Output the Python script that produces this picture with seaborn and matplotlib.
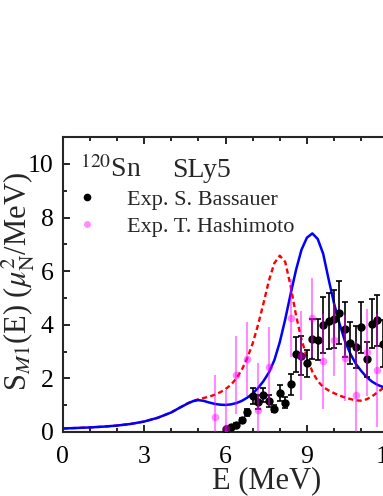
import matplotlib
matplotlib.use('Agg')
import matplotlib.pyplot as plt
from matplotlib.lines import Line2D
from matplotlib.ticker import MultipleLocator
import seaborn as sns

# theory curves (SLy5)
E_th = [0, 0.5, 1, 1.5, 2, 2.5, 3, 3.5, 4, 4.3, 4.6, 4.8, 5.0, 5.2, 5.4, 5.6, 5.8,
        6.0, 6.2, 6.4, 6.6, 6.8, 7.0, 7.2, 7.4, 7.6, 7.8, 8.0, 8.2, 8.4, 8.6, 8.8,
        9.0, 9.2, 9.4, 9.6, 9.8, 10.0, 10.2, 10.4, 10.6, 10.8, 11.0, 11.2, 11.4,
        11.6, 11.8, 12.0]
S_blue = [0.13, 0.15, 0.17, 0.20, 0.24, 0.30, 0.39, 0.53, 0.73, 0.90, 1.06, 1.15,
          1.19, 1.16, 1.10, 1.05, 1.02, 1.01, 1.03, 1.08, 1.16, 1.28, 1.43, 1.64,
          1.90, 2.22, 2.68, 3.35, 4.20, 5.15, 6.05, 6.80, 7.25, 7.41, 7.20, 6.65,
          5.70, 4.80, 4.05, 3.40, 2.92, 2.55, 2.28, 2.05, 1.88, 1.76, 1.68, 1.62]
S_red = [0.13, 0.15, 0.17, 0.20, 0.24, 0.30, 0.39, 0.53, 0.73, 0.90, 1.07, 1.16,
         1.22, 1.27, 1.32, 1.39, 1.48, 1.60, 1.76, 2.00, 2.32, 2.75, 3.30, 4.00,
         4.80, 5.65, 6.30, 6.58, 6.35, 5.45, 4.35, 3.45, 2.80, 2.25, 1.90, 1.68,
         1.55, 1.45, 1.36, 1.29, 1.23, 1.18, 1.17, 1.22, 1.33, 1.48, 1.63, 1.80]

# Exp. S. Bassauer
E_bas = [6.0, 6.2, 6.4, 6.6, 6.8, 7.0, 7.2, 7.4, 7.6, 7.8, 8.0, 8.2, 8.4, 8.6, 8.8,
         9.0, 9.2, 9.4, 9.6, 9.8, 10.0, 10.2, 10.4, 10.6, 10.8, 11.0, 11.2, 11.4,
         11.6, 11.8]
S_bas = [0.10, 0.19, 0.27, 0.43, 0.73, 1.33, 1.12, 1.38, 1.16, 0.86, 1.45, 1.10,
         1.78, 2.90, 2.84, 2.57, 3.47, 3.45, 3.98, 4.15, 4.22, 4.45, 3.83, 3.33,
         3.18, 3.90, 2.72, 4.04, 4.17, 3.30]
err_bas = [0.03, 0.04, 0.05, 0.08, 0.13, 0.30, 0.25, 0.27, 0.22, 0.13, 0.29, 0.22,
           0.40, 0.65, 0.73, 0.50, 0.75, 0.76, 1.05, 1.04, 1.09, 1.18, 1.03, 0.78,
           0.78, 0.95, 0.65, 0.92, 0.96, 0.87]

# Exp. T. Hashimoto
E_has = [5.6, 6.0, 6.4, 6.8, 7.2, 7.6, 8.4, 8.8, 9.2, 9.6, 10.0, 10.4, 10.8, 11.2, 11.6]
S_has = [0.57, 0.15, 2.13, 2.73, 0.83, 2.44, 4.25, 2.85, 4.27, 2.64, 3.45, 2.75,
         1.39, 2.97, 2.30]
err_has = [1.55, 1.40, 1.47, 1.37, 1.74, 1.47, 1.45, 1.65, 1.46, 1.77, 1.35, 1.60,
           2.00, 1.62, 2.10]

sns.set_theme(style='ticks')
plt.rcParams['font.family'] = ['Liberation Serif', 'DejaVu Serif']
plt.rcParams['mathtext.fontset'] = 'stix'
plt.rcParams['axes.linewidth'] = 1.5

fig = plt.figure(figsize=(3.83, 4.96), dpi=100)
# axis runs to 15 MeV; the right part falls outside the picture
ax = fig.add_axes([62.7/383, 64/496, 407/383, 294.8/496])

sns.lineplot(x=E_th, y=S_red, ax=ax, color='#ff0000', lw=1.7,
             linestyle=(0, (2.2, 1.4)), zorder=2)
sns.lineplot(x=E_th, y=S_blue, ax=ax, color='#0000ff', lw=1.8, zorder=3)

ax.errorbar(E_bas, S_bas, yerr=err_bas, fmt='o', color='black', ms=5,
            elinewidth=1.2, capsize=2.5, capthick=1.2, zorder=4)
ax.errorbar(E_has, S_has, yerr=err_has, fmt='o', color='#ff00ff', alpha=0.45,
            ms=5.5, mew=0, elinewidth=1.5, capsize=2.5, capthick=1.2, zorder=5)

ax.set_xlim(0, 15)
ax.set_ylim(0, 11)
ax.xaxis.set_major_locator(MultipleLocator(3))
ax.xaxis.set_minor_locator(MultipleLocator(1))
ax.yaxis.set_major_locator(MultipleLocator(2))
ax.yaxis.set_minor_locator(MultipleLocator(1))
ax.tick_params(which='both', direction='in', top=True, right=True, width=1.2,
               colors='black', labelsize=18.5)
ax.tick_params(which='major', length=5)
ax.tick_params(which='minor', length=3)
ax.tick_params(axis='x', pad=10)
ax.tick_params(axis='y', pad=6.5)

ax.set_xlabel('E (MeV)', fontsize=22)
ax.set_ylabel(r'S$_{M1}$(E) ($\mu_{\rm N}^2$/MeV)', fontsize=22)
ax.xaxis.set_label_coords(0.5, -0.117)
ax.yaxis.set_label_coords(-0.062, 0.51)

ax.text(0.042, 0.866, r'$^{120}$Sn', transform=ax.transAxes, fontsize=20)
ax.text(0.268, 0.866, 'SLy5', transform=ax.transAxes, fontsize=20)

handles = [Line2D([], [], ls='none', marker='o', color='black', ms=4.5),
           Line2D([], [], ls='none', marker='o', color='#ff00ff', alpha=0.45,
                  mew=0, ms=5)]
ax.legend(handles, ['Exp. S. Bassauer', 'Exp. T. Hashimoto'], loc='upper left',
          bbox_to_anchor=(0.005, 0.823), frameon=False, fontsize=16,
          borderpad=0, borderaxespad=0, labelspacing=0.3, handletextpad=0.8,
          handlelength=2.0)

fig.savefig('out.png', dpi=100)
